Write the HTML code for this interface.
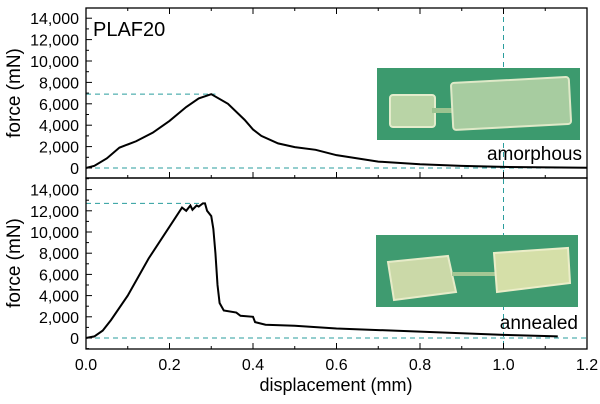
<!DOCTYPE html>
<html><head><meta charset="utf-8"><style>
body{margin:0;background:#fff;}
svg{display:block;font-family:"Liberation Sans",sans-serif;}
</style></head><body>
<svg id="s" width="600" height="404" viewBox="0 0 600 404">
<rect x="0" y="0" width="600" height="404" fill="#fff"/>
<g id="g"></g>
<rect x="377" y="68" width="203" height="72" fill="#3c9a6e"/>
<rect x="390" y="95" width="45" height="32" rx="3" fill="#b9d4a6" stroke="#e4eccc" stroke-width="2"/>
<rect x="432" y="108" width="22" height="5" fill="#9cc390"/>
<rect x="452" y="80" width="118" height="47" rx="3" fill="#a7cca0" stroke="#dfe9c8" stroke-width="2" transform="rotate(-3 510 103)"/>
<rect x="376" y="235" width="202" height="72" fill="#3f9b70"/>
<path d="M388 262 L448 256 L456 292 L394 300 Z" fill="#cbd9a8" stroke="#e6ebc8" stroke-width="2"/>
<rect x="452" y="272" width="45" height="4" fill="#a4c794"/>
<path d="M494 253 L568 248 L570 283 L497 292 Z" fill="#d5dfa8" stroke="#ebedc8" stroke-width="2"/>
<text x="93" y="36" font-size="20">PLAF20</text>
<text x="582" y="160" font-size="19" text-anchor="end">amorphous</text>
<text x="578" y="329" font-size="19" text-anchor="end">annealed</text>
<text x="336" y="391" font-size="18" text-anchor="middle">displacement (mm)</text>
<text transform="translate(20,93) rotate(-90)" font-size="19" text-anchor="middle">force (mN)</text>
<text transform="translate(20,263) rotate(-90)" font-size="19" text-anchor="middle">force (mN)</text>
</svg>
<script>
(function(){
const g=document.getElementById('g');let h='';
const X=v=>86+v*417.5;
const Yt=f=>168-f/2000*21.4, Yb=f=>338-f/2000*21.2;
const fmt=f=>String(f).replace(/\B(?=(\d{3})+(?!\d))/g,',');
const c='#2a9d9d';
h+='<line x1="86" y1="168" x2="587" y2="168" stroke="'+c+'" stroke-dasharray="5,4"/>';
h+='<line x1="86" y1="338" x2="587" y2="338" stroke="'+c+'" stroke-dasharray="5,4"/>';
h+='<line x1="86" y1="'+Yt(6900)+'" x2="'+X(0.31)+'" y2="'+Yt(6900)+'" stroke="'+c+'" stroke-dasharray="5,4"/>';
h+='<line x1="86" y1="'+Yb(12700)+'" x2="'+X(0.285)+'" y2="'+Yb(12700)+'" stroke="'+c+'" stroke-dasharray="5,4"/>';
h+='<line x1="'+X(1)+'" y1="8" x2="'+X(1)+'" y2="349" stroke="'+c+'" stroke-dasharray="5,4"/>';
h+='<rect x="86" y="8" width="501" height="170" fill="none" stroke="#000" stroke-width="1.3"/>';
h+='<rect x="86" y="178" width="501" height="171" fill="none" stroke="#000" stroke-width="1.3"/>';
for(let f=-1000;f<=14000;f+=1000){const maj=f%2000==0;
 let y=Yt(f);h+='<line x1="86" y1="'+y+'" x2="'+(86+(maj?6:3))+'" y2="'+y+'" stroke="#000"/>';
 if(maj&&f>=0)h+='<text x="79" y="'+(y+6)+'" font-size="16" text-anchor="end">'+fmt(f)+'</text>';
 y=Yb(f);if(y>=179){h+='<line x1="86" y1="'+y+'" x2="'+(86+(maj?6:3))+'" y2="'+y+'" stroke="#000"/>';
 if(maj&&f>=0)h+='<text x="79" y="'+(y+6)+'" font-size="16" text-anchor="end">'+fmt(f)+'</text>';}
}
for(let i=0;i<=12;i++){const v=i/10,x=X(v),maj=i%2==0,l=maj?6:3;
 h+='<line x1="'+x+'" y1="349" x2="'+x+'" y2="'+(349-l)+'" stroke="#000"/>';
 h+='<line x1="'+x+'" y1="178" x2="'+x+'" y2="'+(178-l)+'" stroke="#000"/>';
 h+='<line x1="'+x+'" y1="8" x2="'+x+'" y2="'+(8+l)+'" stroke="#000"/>';
 if(maj)h+='<text x="'+x+'" y="370" font-size="16" text-anchor="middle">'+v.toFixed(1)+'</text>';}
const topD=[[0,0],[0.02,200],[0.05,900],[0.08,1900],[0.12,2500],[0.16,3300],[0.2,4400],[0.24,5700],[0.27,6500],[0.3,6900],[0.34,6000],[0.38,4500],[0.4,3600],[0.42,3000],[0.46,2300],[0.5,1950],[0.55,1700],[0.6,1200],[0.7,600],[0.8,350],[0.9,200],[1.0,100],[1.2,20]];
const botD=[[0,0],[0.02,150],[0.04,700],[0.06,1700],[0.1,4000],[0.15,7500],[0.2,10500],[0.23,12300],[0.24,12000],[0.25,12500],[0.255,12100],[0.265,12500],[0.27,12400],[0.28,12700],[0.285,12700],[0.29,12000],[0.3,11500],[0.305,10300],[0.31,8000],[0.315,5000],[0.32,3300],[0.33,2600],[0.36,2400],[0.37,2100],[0.4,2000],[0.405,1500],[0.43,1250],[0.5,1150],[0.6,900],[0.8,600],[1.0,300],[1.13,150]];
h+='<polyline fill="none" stroke="#000" stroke-width="2" points="'+topD.map(p=>X(p[0])+','+Yt(p[1])).join(' ')+'"/>';
h+='<polyline fill="none" stroke="#000" stroke-width="2" points="'+botD.map(p=>X(p[0])+','+Yb(p[1])).join(' ')+'"/>';
g.innerHTML=h;
})();
</script>
</body></html>
